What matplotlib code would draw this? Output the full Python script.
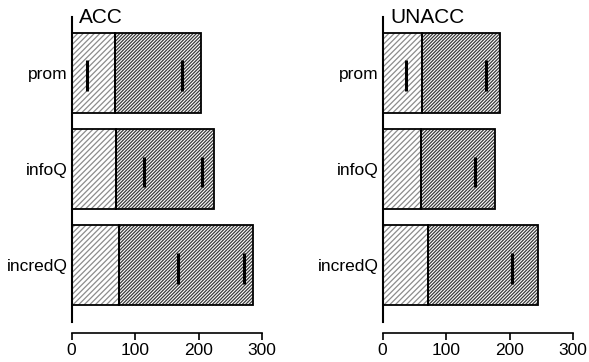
import matplotlib.pyplot as plt

plt.rcParams['font.family'] = ['Liberation Sans', 'DejaVu Sans']
plt.rcParams['hatch.linewidth'] = 0.9

categories = ['prom', 'infoQ', 'incredQ']

# ACC panel
acc_first = [69, 70, 75]
acc_total = [204, 224, 286]
acc_marks = [[25, 174], [114, 206], [167, 271]]

# UNACC panel
unacc_first = [62, 61, 72]
unacc_total = [185, 177, 245]
unacc_marks = [[37, 162], [145], [204]]

panels = [('ACC', acc_first, acc_total, acc_marks),
          ('UNACC', unacc_first, unacc_total, unacc_marks)]

fig = plt.figure(figsize=(5.89, 3.62), dpi=100)
lefts = [0.1214, 0.6497]

for left, (title, first, total, marks) in zip(lefts, panels):
    ax = fig.add_axes([left, 0.1105, 0.3236, 0.8425])
    ypos = list(range(len(categories)))
    rest = [t - f for t, f in zip(total, first)]
    # hatched fills
    ax.barh(ypos, first, height=0.833, color='white', edgecolor='#8c8c8c',
            hatch='//////', linewidth=0)
    ax.barh(ypos, rest, left=first, height=0.833, color='white',
            edgecolor='#3a3a3a', hatch='//////////', linewidth=0)
    # outlines
    ax.barh(ypos, first, height=0.833, fill=False, edgecolor='black', linewidth=1.3)
    ax.barh(ypos, rest, left=first, height=0.833, fill=False,
            edgecolor='black', linewidth=1.3)
    for y, ms in zip(ypos, marks):
        for m in ms:
            ax.vlines(m, y - 0.13, y + 0.19, color='black', linewidth=2.2)

    ax.set_xlim(0, 300)
    ax.set_ylim(2.59, -0.58)
    ax.set_yticks(ypos)
    ax.set_yticklabels(categories, fontsize=12.5)
    ax.tick_params(axis='y', length=0, pad=3)
    ax.set_xticks([0, 100, 200, 300])
    ax.tick_params(axis='x', length=5, width=1.2, labelsize=12.5, pad=2)
    for s in ['top', 'right']:
        ax.spines[s].set_visible(False)
    ax.spines['left'].set_linewidth(1.5)
    ax.spines['bottom'].set_linewidth(1.2)
    ax.spines['bottom'].set_position(('outward', 8))
    ax.text(0.04, 1.028, title, transform=ax.transAxes, fontsize=15,
            ha='left', va='top')

fig.savefig('out.png', dpi=100)
